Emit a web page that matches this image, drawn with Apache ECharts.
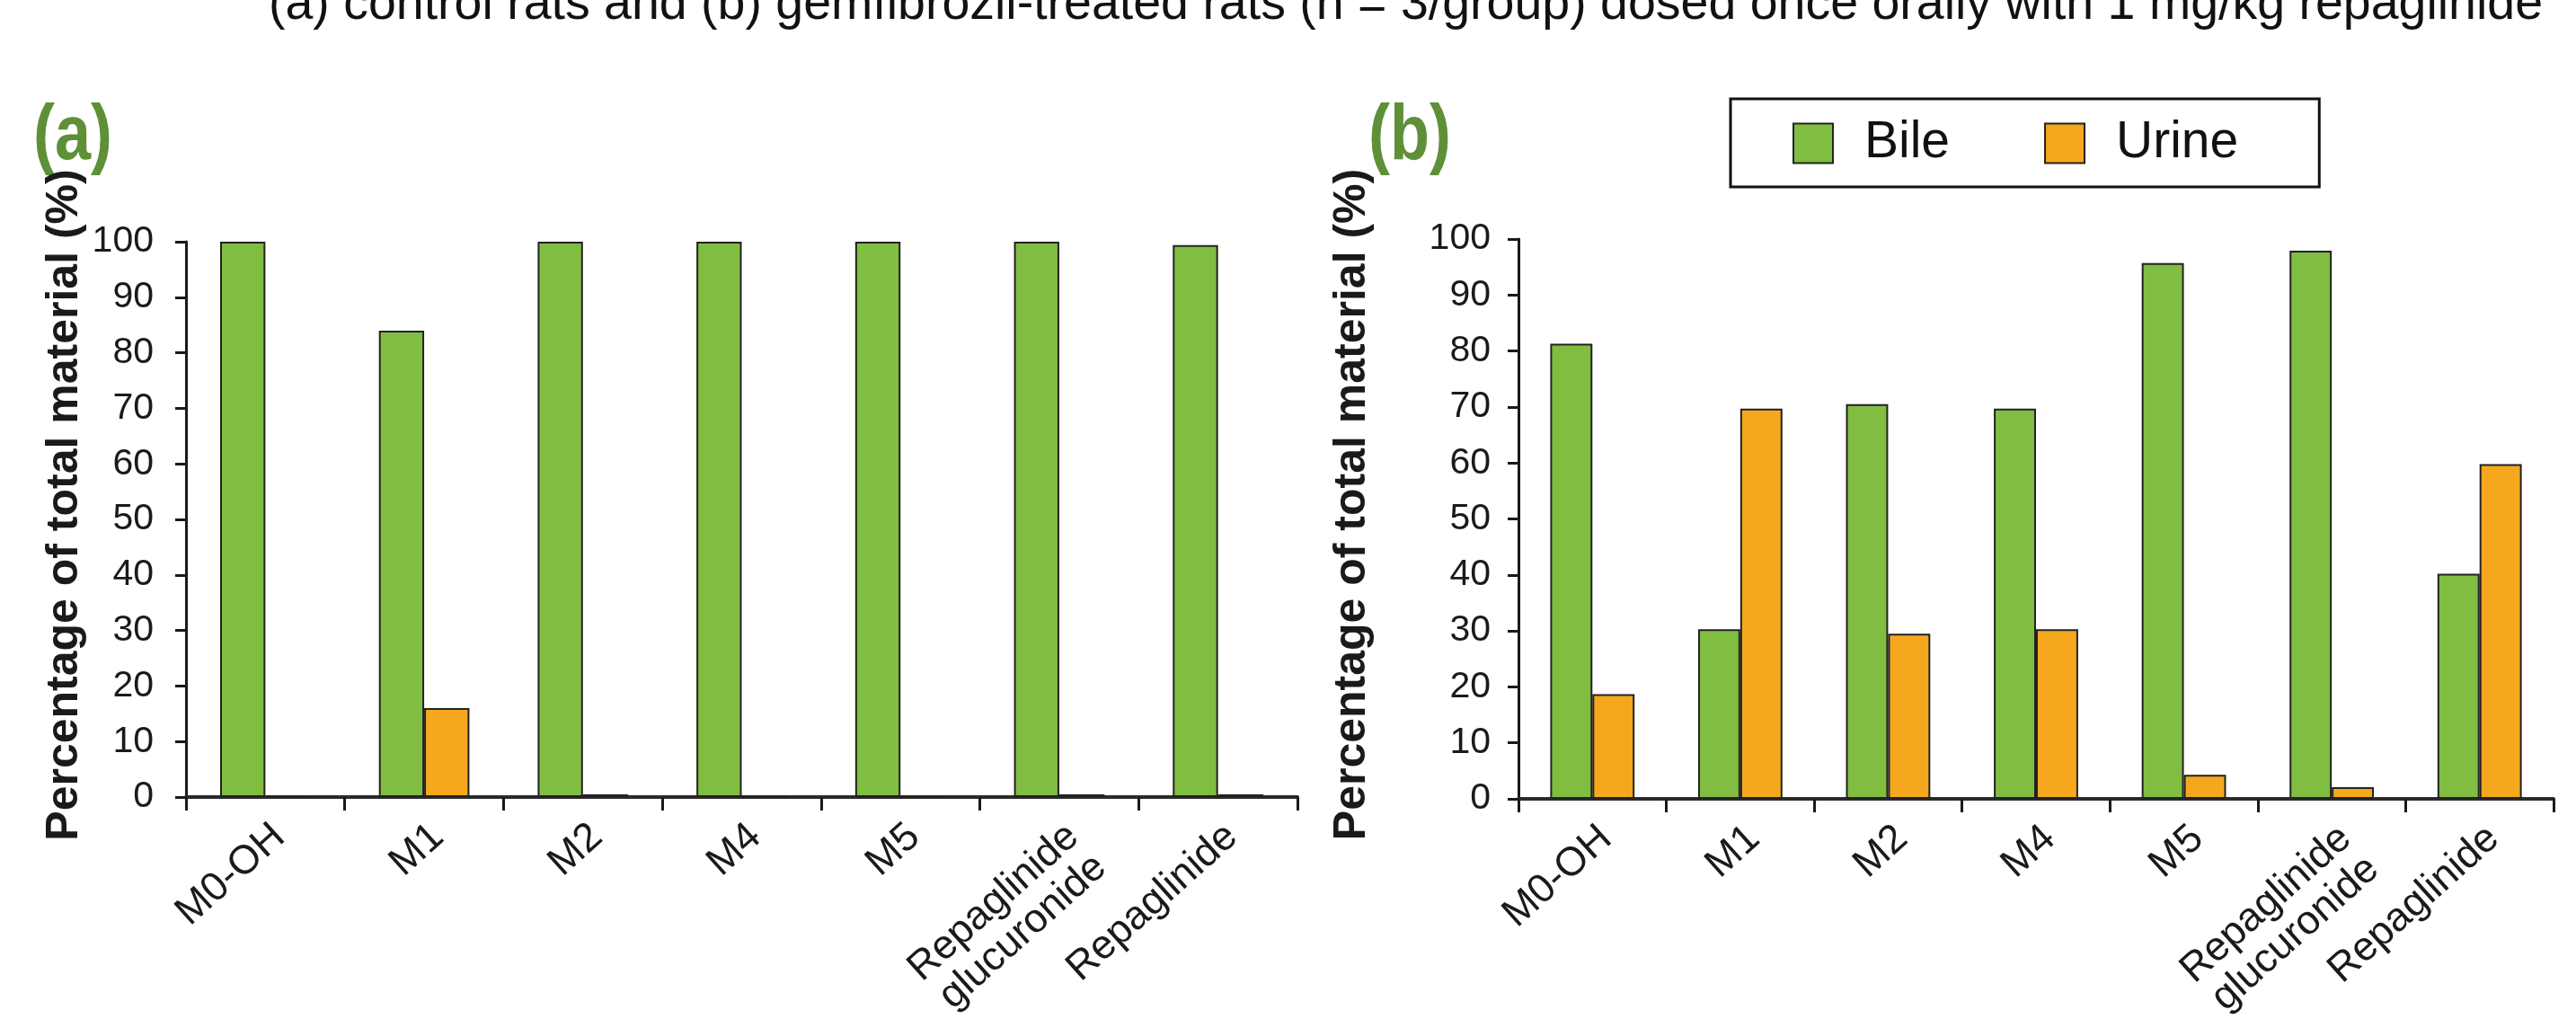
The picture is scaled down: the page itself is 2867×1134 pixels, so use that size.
<!DOCTYPE html>
<html>
<head>
<meta charset="utf-8">
<script src="https://cdn.jsdelivr.net/npm/echarts@6/dist/echarts.min.js"></script>
<style>
html,body{margin:0;padding:0;background:#fff;}
#chart{width:2867px;height:1134px;}
</style>
</head>
<body>
<div id="chart"></div>
<script>
const categories = ['M0-OH', 'M1', 'M2', 'M4', 'M5', 'Repaglinide\nglucuronide', 'Repaglinide'];
const bileA = [100, 84, 100, 100, 100, 100, 99.4];
const urineA = [0, 16, 0.5, 0, 0, 0.5, 0.5];
const bileB = [81.3, 30.3, 70.5, 69.7, 95.7, 97.9, 40.2];
const urineB = [18.7, 69.7, 29.5, 30.3, 4.3, 2.1, 59.8];
const seriesNames = ['Bile', 'Urine'];
const yTicks = {min: 0, max: 100, interval: 10};
const titleText = '(a) control rats and (b) gemfibrozil-treated rats (n = 3/group) dosed once orally with 1 mg/kg repaglinide';
const yName = 'Percentage of total material (%)';

const FONT = '"Liberation Sans", Arial, Helvetica, sans-serif';
const GREEN = '#80BD41';
const ORANGE = '#F5A81D';
const LABEL_GREEN = '#5E9038';

function xAxis(gi) {
  return {
    type: 'category', gridIndex: gi, data: categories,
    axisLine: {lineStyle: {color: '#2a2a2a', width: 4}},
    axisTick: {show: true, length: 15, lineStyle: {color: '#1a1a1a', width: 3}},
    axisLabel: {rotate: 42, fontSize: 45, color: '#1a1a1a', fontFamily: FONT, margin: 21, interval: 0, lineHeight: 46,
                align: 'right', verticalAlign: 'top'}
  };
}
function yAxis(gi, nameGap, labelMargin) {
  return {
    type: 'value', gridIndex: gi, min: yTicks.min, max: yTicks.max, interval: yTicks.interval,
    name: yName, nameLocation: 'middle', nameGap: nameGap, nameRotate: 90,
    nameTextStyle: {fontSize: 50, fontWeight: 'bold', color: '#1a1a1a', fontFamily: FONT, padding: [0, 0, 0, 32]},
    axisLine: {show: true, lineStyle: {color: '#1a1a1a', width: 3}},
    axisTick: {show: true, length: 12, lineStyle: {color: '#1a1a1a', width: 3}},
    axisLabel: {fontSize: 41, color: '#1a1a1a', fontFamily: FONT, margin: labelMargin},
    splitLine: {show: false}
  };
}
function bar(name, data, idx, color) {
  return {
    name: name, type: 'bar', data: data, xAxisIndex: idx, yAxisIndex: idx,
    barGap: '0%', barCategoryGap: '43%',
    itemStyle: {color: color, borderColor: '#222', borderWidth: 2},
    emphasis: {disabled: true}
  };
}

const chart = echarts.init(document.getElementById('chart'));
chart.setOption({
  animation: false,
  backgroundColor: '#fff',
  textStyle: {fontFamily: FONT},
  grid: [
    {left: 207, top: 269, width: 1237, height: 618, containLabel: false, outerBoundsMode: 'none'},
    {left: 1690, top: 266, width: 1152, height: 623, containLabel: false, outerBoundsMode: 'none'}
  ],
  xAxis: [xAxis(0), xAxis(1)],
  yAxis: [yAxis(0, 110, 36), yAxis(1, 160, 31)],
  legend: {
    data: seriesNames, left: 1926, top: 110, orient: 'horizontal',
    icon: 'rect', itemWidth: 44, itemHeight: 44, itemGap: 105,
    borderColor: '#111', borderWidth: 3, borderRadius: 0,
    padding: [21, 90, 20, 69],
    textStyle: {fontSize: 57, color: '#111', fontFamily: FONT, padding: [0, 0, 0, 30]}
  },
  graphic: [
    {type: 'text', x: 2830, y: 6, style: {text: titleText, fill: '#111', font: '55.5px ' + FONT, textAlign: 'right', textVerticalAlign: 'middle'}},
    {type: 'text', x: 37, y: 110, scaleY: 1.2, style: {text: '(a)', fill: LABEL_GREEN, font: 'bold 72px ' + FONT, textAlign: 'left', textVerticalAlign: 'top'}},
    {type: 'text', x: 1523, y: 110, scaleY: 1.2, style: {text: '(b)', fill: LABEL_GREEN, font: 'bold 72px ' + FONT, textAlign: 'left', textVerticalAlign: 'top'}}
  ],
  series: [
    bar('Bile', bileA, 0, GREEN),
    bar('Urine', urineA, 0, ORANGE),
    bar('Bile', bileB, 1, GREEN),
    bar('Urine', urineB, 1, ORANGE)
  ]
});
</script>
</body>
</html>
